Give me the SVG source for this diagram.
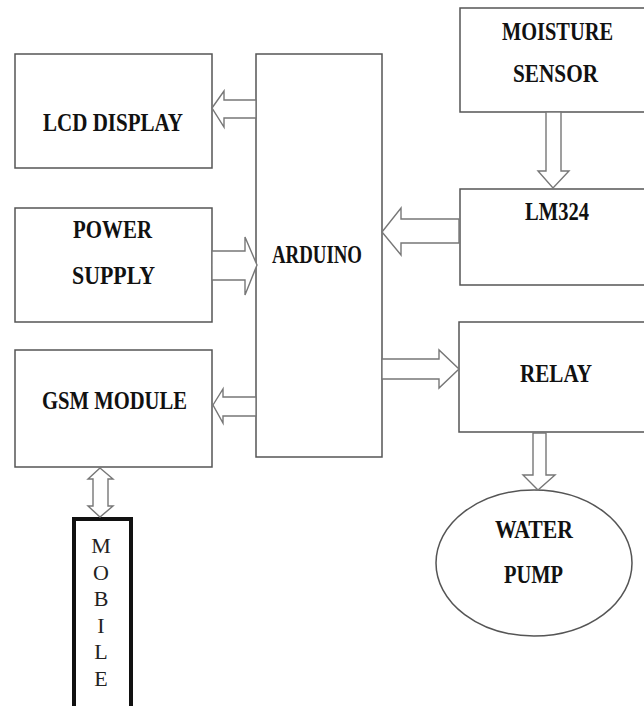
<svg xmlns="http://www.w3.org/2000/svg" width="644" height="706" viewBox="0 0 644 706">
<style>
.box{fill:#fff;stroke:#555;stroke-width:1.5}
.arr{fill:#fff;stroke:#777;stroke-width:1.4;stroke-linejoin:miter}
.t{font-family:"Liberation Serif","Times New Roman",serif;font-weight:bold;font-size:25px;fill:#111;text-anchor:middle}
.m{font-family:"Liberation Serif","Times New Roman",serif;font-size:22px;fill:#222;text-anchor:middle}
</style>
<rect width="644" height="706" fill="#fff"/>
<g id="lcd"><rect class="box" x="15" y="54" width="197" height="114"/><text class="t" x="113" y="131" textLength="140" lengthAdjust="spacingAndGlyphs">LCD DISPLAY</text></g>
<g id="power"><rect class="box" x="15" y="208" width="197" height="114"/><text class="t" x="112.5" y="238" textLength="79" lengthAdjust="spacingAndGlyphs">POWER</text><text class="t" x="113.5" y="284" textLength="83" lengthAdjust="spacingAndGlyphs">SUPPLY</text></g>
<g id="gsm"><rect class="box" x="15" y="350" width="197" height="117"/><text class="t" x="114.5" y="409" textLength="145" lengthAdjust="spacingAndGlyphs">GSM MODULE</text></g>
<g id="arduino"><rect class="box" x="256" y="54" width="126" height="403"/><text class="t" x="317" y="263" textLength="90" lengthAdjust="spacingAndGlyphs">ARDUINO</text></g>
<g id="moisture"><rect class="box" x="460" y="8" width="200" height="104"/><text class="t" x="557.5" y="40" textLength="111" lengthAdjust="spacingAndGlyphs">MOISTURE</text><text class="t" x="555.5" y="82" textLength="85" lengthAdjust="spacingAndGlyphs">SENSOR</text></g>
<g id="lm324"><rect class="box" x="460" y="189" width="200" height="96"/><text class="t" x="557" y="220" textLength="64" lengthAdjust="spacingAndGlyphs">LM324</text></g>
<g id="relay"><rect class="box" x="459" y="322" width="200" height="110"/><text class="t" x="556" y="382" textLength="72" lengthAdjust="spacingAndGlyphs">RELAY</text></g>
<g id="pump"><ellipse class="box" cx="534" cy="563" rx="98" ry="73"/><text class="t" x="534" y="538" textLength="78" lengthAdjust="spacingAndGlyphs">WATER</text><text class="t" x="533.5" y="583" textLength="59" lengthAdjust="spacingAndGlyphs">PUMP</text></g>
<g id="mobile"><rect x="74" y="519" width="57" height="200" fill="#fff" stroke="#111" stroke-width="4"/>
<text class="m" x="101" y="553">M</text><text class="m" x="101" y="579.5">O</text><text class="m" x="101" y="606">B</text><text class="m" x="101" y="632.5">I</text><text class="m" x="101" y="659">L</text><text class="m" x="101" y="685.5">E</text></g>
<g id="connectors">
<polygon class="arr" points="212,108 224,91 224,100 256,100 256,118 224,118 224,127"/>
<polygon class="arr" points="212,251 245,251 245,237 257,265 245,295 245,280 212,280"/>
<polygon class="arr" points="213,405 223,389 223,397 256,397 256,416 223,416 223,423"/>
<polygon class="arr" points="382,232 401,208 401,219 459,219 459,243 401,243 401,255"/>
<polygon class="arr" points="382,359 439,359 439,350 459,369 439,388 439,379 382,379"/>
<polygon class="arr" points="546,112 561,112 561,171 569,171 553,188 538,171 546,171"/>
<polygon class="arr" points="533,433 546,433 546,475 555,475 538,490 523,475 533,475"/>
<polygon class="arr" points="100,468 113,479 108,479 108,506 113,506 100,517 88,506 93,506 93,479 88,479"/>
</g>
</svg>
